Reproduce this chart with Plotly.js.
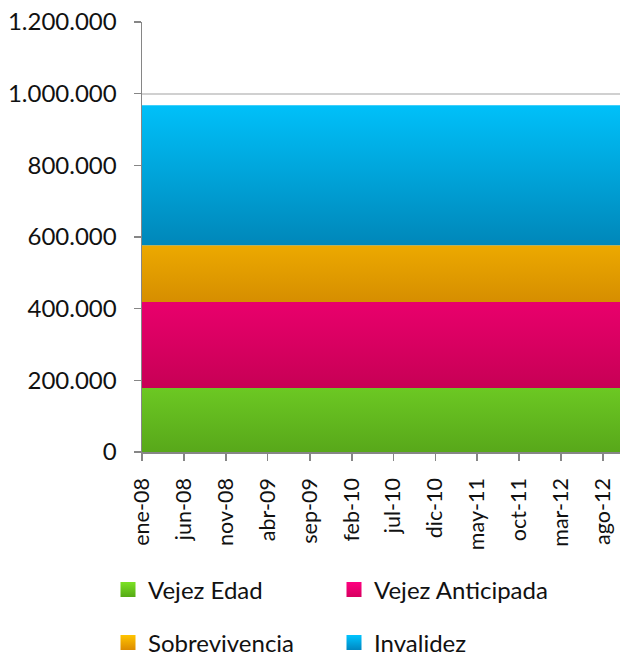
<!DOCTYPE html>
<html>
<head>
<meta charset="utf-8">
<script src="https://cdn.plot.ly/plotly-3.0.1.min.js"></script>
<style>html,body{margin:0;padding:0;background:#fff;}#chart{width:620px;height:656px;}</style>
</head>
<body>
<div id="chart"></div>
<script>
// Months (date positions of the points) and their labels
var months = ['2008-01-01','2008-06-01','2008-11-01','2009-04-01','2009-09-01','2010-02-01','2010-07-01','2010-12-01','2011-05-01','2011-10-01','2012-03-01','2012-08-01','2012-10-01'];
var tickMonths = ['2008-01-01','2008-06-01','2008-11-01','2009-04-01','2009-09-01','2010-02-01','2010-07-01','2010-12-01','2011-05-01','2011-10-01','2012-03-01','2012-08-01'];
var tickLabels = ['ene-08','jun-08','nov-08','abr-09','sep-09','feb-10','jul-10','dic-10','may-11','oct-11','mar-12','ago-12'];
var seriesNames = ['Vejez Edad','Vejez Anticipada','Sobrevivencia','Invalidez'];

// Series values
var vejezEdad       = [178600,178600,178600,178600,178600,178600,178600,178600,178600,178600,178600,178600,178600];
var vejezAnticipada = [240000,240000,240000,240000,240000,240000,240000,240000,240000,240000,240000,240000,240000];
var sobrevivencia   = [158200,158200,158200,158200,158200,158200,158200,158200,158200,158200,158200,158200,158200];
var invalidez       = [390700,390700,390700,390700,390700,390700,390700,390700,390700,390700,390700,390700,390700];

var series = [vejezEdad, vejezAnticipada, sobrevivencia, invalidez];
// [bottom colour, top colour] of each area
var areaColors = [
  ['#58a81a','#6cc823'],
  ['#c70055','#e9006c'],
  ['#d68e00','#eca900'],
  ['#0087b9','#00c0f9']
];
// [top colour, bottom colour] of each legend key
var legendColors = [
  ['#7be124','#55a915'],
  ['#ff0080','#d6005f'],
  ['#ffc400','#dc8b00'],
  ['#00c4ff','#0086c0']
];

var FONT = 'Lato, "Open Sans", sans-serif';
var TXT = '#111';
var traces = [];
var base = 0;
for (var i = 0; i < series.length; i++) {
  var lo = base, hi = base + series[i][0];
  traces.push({
    type: 'scatter', mode: 'lines', x: months, y: series[i],
    stackgroup: 'one', name: seriesNames[i], showlegend: false,
    line: {width: 0, color: areaColors[i][1]},
    fillcolor: areaColors[i][1],
    fillgradient: {type: 'vertical', start: lo, stop: hi,
      colorscale: [[0, areaColors[i][0]], [1, areaColors[i][1]]]},
    hoverinfo: 'skip'
  });
  base = hi;
}
var legendIds = ['legend','legend2','legend3','legend4'];
for (var j = 0; j < series.length; j++) {
  traces.push({
    type: 'scatter', mode: 'markers', x: [null], y: [null],
    name: seriesNames[j], showlegend: true, legend: legendIds[j],
    marker: {symbol: 'square', size: 15, color: legendColors[j][0],
      gradient: {type: 'vertical', color: legendColors[j][1]}, line: {width: 0}}
  });
}

function legendAt(px, py) {
  return {
    orientation: 'h', xref: 'container', yref: 'container',
    x: px / 620, y: 1 - py / 656, xanchor: 'left', yanchor: 'middle',
    itemwidth: 30, traceorder: 'normal',
    font: {family: FONT, size: 24, color: TXT}, bgcolor: 'rgba(0,0,0,0)'
  };
}

var layout = {
  width: 620, height: 656,
  margin: {l: 142, r: 0, t: 22, b: 204},
  paper_bgcolor: '#fff', plot_bgcolor: '#fff',
  separators: ',.',
  font: {family: FONT, size: 24, color: TXT},
  showlegend: true,
  xaxis: {
    type: 'date', range: ['2008-01-01','2012-10-01'],
    tickmode: 'array', tickvals: tickMonths, ticktext: tickLabels,
    tickangle: -90, ticks: 'outside', ticklen: 7, tickcolor: '#868686', tickwidth: 1.5,
    showline: true, linecolor: '#868686', linewidth: 1.5,
    showgrid: false, zeroline: false, fixedrange: true, ticklabelstandoff: 9,
    tickfont: {family: FONT, size: 21.5, color: TXT}
  },
  yaxis: {
    range: [0, 1200000], tickmode: 'linear', tick0: 0, dtick: 200000,
    tickformat: ',d', ticks: 'outside', ticklen: 7, tickcolor: '#868686', tickwidth: 1.5,
    showline: true, linecolor: '#868686', linewidth: 1.5,
    showgrid: true, gridcolor: '#d0d0d0', gridwidth: 2,
    zeroline: false, fixedrange: true, ticklabelstandoff: 12,
    tickfont: {family: FONT, size: 24, color: TXT}
  },
  legend: legendAt(108, 590),
  legend2: legendAt(334, 590),
  legend3: legendAt(108, 643),
  legend4: legendAt(334, 643)
};

Plotly.newPlot('chart', traces, layout, {displayModeBar: false, staticPlot: true});
</script>
</body>
</html>
